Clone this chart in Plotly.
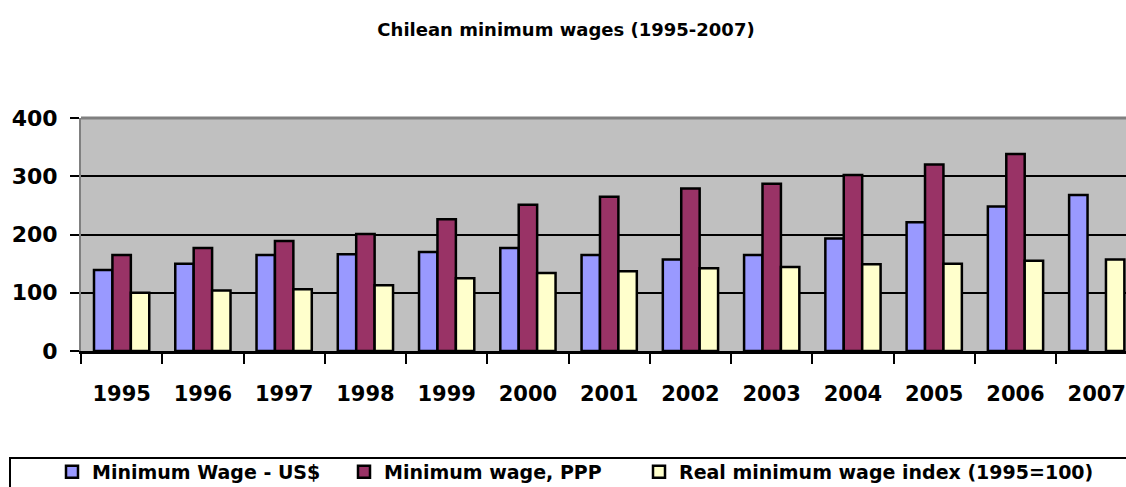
import plotly.graph_objects as go

years = ["1995", "1996", "1997", "1998", "1999", "2000", "2001", "2002", "2003", "2004", "2005", "2006", "2007"]
wage_usd = [139, 150, 165, 166, 170, 177, 165, 157, 165, 193, 221, 248, 268]
wage_ppp = [165, 177, 189, 201, 226, 251, 265, 279, 287, 302, 320, 338, None]
real_index = [100, 104, 106, 113, 125, 134, 137, 142, 144, 149, 150, 155, 157]

series_names = ["Minimum Wage - US$", "Minimum wage, PPP", "Real minimum wage index (1995=100)"]
series_values = [wage_usd, wage_ppp, real_index]
series_colors = ["#9999FF", "#993366", "#FFFFCC"]
legend_ids = ["legend", "legend2", "legend3"]

W, H = 1126, 487
L, R, T, B = 81, 0, 118, 487 - 351
pw = W - L - R
ph = H - T - B


def px_x(x):  # pixel -> paper x
    return (x - L) / pw


def px_y(y):  # pixel -> paper y
    return (H - B - y) / ph


fig = go.Figure()
for name, vals, col, lg in zip(series_names, series_values, series_colors, legend_ids):
    fig.add_trace(go.Bar(
        x=years, y=vals, name=name, legend=lg,
        marker=dict(color=col, line=dict(color="black", width=2.5)),
    ))

legend_font = dict(family="DejaVu Sans", size=19, color="black", weight="bold")
legend_left = [52, 344, 639]
legends = {}
for lg, lx in zip(legend_ids, legend_left):
    legends[lg] = dict(orientation="h", x=px_x(lx), xanchor="left",
                       y=px_y(472), yanchor="middle", font=legend_font,
                       bgcolor="rgba(0,0,0,0)", itemwidth=30)

fig.update_layout(
    width=W, height=H,
    margin=dict(l=L, r=R, t=T, b=B, autoexpand=False),
    paper_bgcolor="white",
    plot_bgcolor="#C0C0C0",
    barmode="group",
    bargap=0.32,
    bargroupgap=0,
    showlegend=True,
    title=dict(text="Chilean minimum wages (1995-2007)", x=566 / W, xanchor="center",
               y=1 - 30 / H, yanchor="middle",
               font=dict(family="DejaVu Sans", size=18, color="black", weight="bold")),
    xaxis=dict(
        range=[-0.5, 12.36],
        showgrid=False, automargin=False,
        showline=True, linecolor="black", linewidth=3,
        ticks="outside", tickson="boundaries", ticklen=10, tickwidth=2, tickcolor="black",
        tickfont=dict(family="DejaVu Sans", size=21, color="black", weight="bold"),
        ticklabelstandoff=22,
        fixedrange=True,
    ),
    yaxis=dict(
        range=[0, 400], tickvals=[0, 100, 200, 300, 400],
        showgrid=True, gridcolor="black", gridwidth=1.5, automargin=False,
        showline=True, linecolor="#808080", linewidth=2,
        ticks="outside", ticklen=9, tickwidth=2, tickcolor="black",
        tickfont=dict(family="DejaVu Sans", size=22, color="black", weight="bold"),
        ticklabelstandoff=8,
        zeroline=False,
        fixedrange=True,
    ),
    shapes=[
        dict(type="line", xref="paper", yref="paper", x0=0, x1=1.01, y0=1, y1=1,
             line=dict(color="#808080", width=3)),
        dict(type="rect", xref="paper", yref="paper",
             x0=px_x(10), x1=px_x(1140),
             y0=px_y(495), y1=px_y(458),
             line=dict(color="black", width=2), fillcolor="rgba(0,0,0,0)"),
    ],
    **legends,
)

fig.write_html(
    "out.html",
    config={"displayModeBar": False},
    post_script="document.body.style.margin='0';document.body.style.overflow='hidden';",
)
